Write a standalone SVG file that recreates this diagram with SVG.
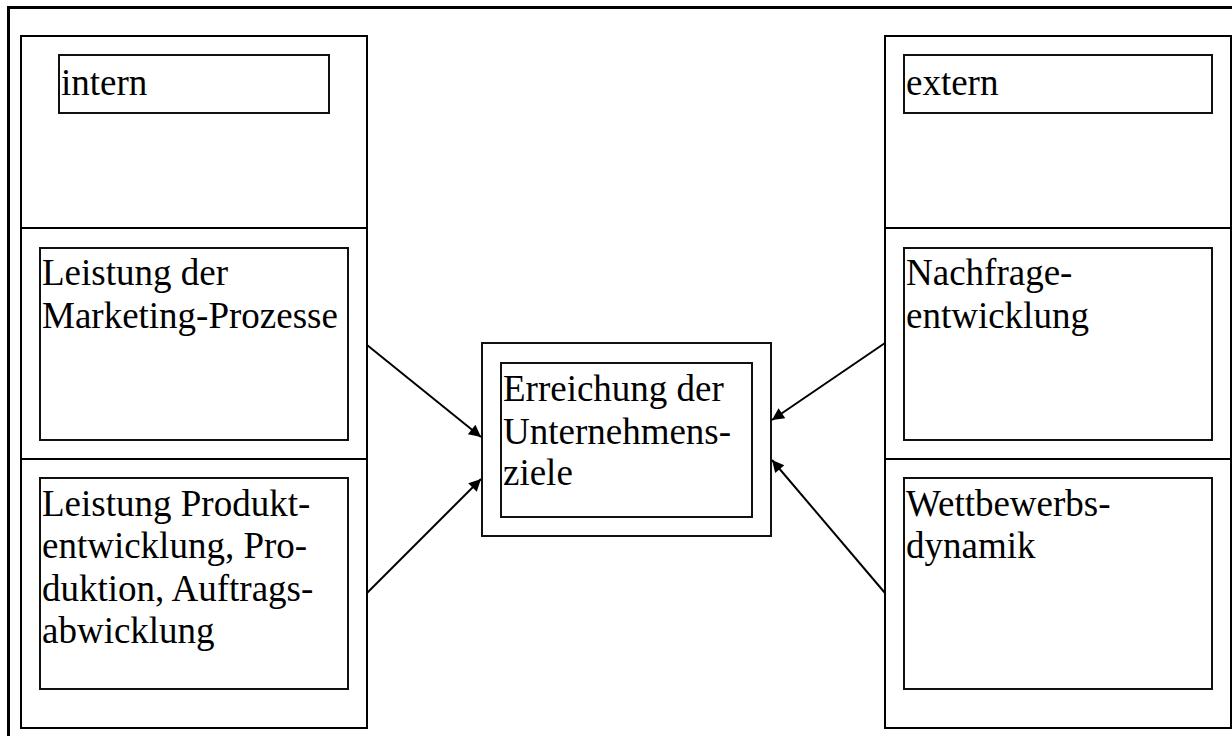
<svg xmlns="http://www.w3.org/2000/svg" width="1232" height="736" viewBox="0 0 1232 736">
<defs>
<style>
.frame{fill:none;stroke:#000;stroke-width:3}
.col{fill:#fff;stroke:#000;stroke-width:2}
.box{fill:#fff;stroke:#111;stroke-width:2}
.lbl{font-family:"Liberation Serif","Times New Roman",serif;font-size:37px;fill:#000}
.conn{stroke:#000;stroke-width:2;fill:none;marker-end:url(#ah)}
</style>
<marker id="ah" viewBox="0 0 10 10" refX="10" refY="5" markerWidth="8" markerHeight="6" markerUnits="strokeWidth" orient="auto">
<path d="M0,0 L10,5 L0,10 z" fill="#000"/>
</marker>
</defs>
<rect width="1232" height="736" fill="#fff"/>
<rect class="frame" x="8.5" y="7.5" width="1240" height="740"/>
<g id="left-column">
<rect class="col" x="21" y="36" width="346" height="692"/>
<line x1="21" y1="228" x2="367" y2="228" stroke="#000" stroke-width="2"/>
<line x1="21" y1="459" x2="367" y2="459" stroke="#000" stroke-width="2"/>
</g>
<g id="right-column">
<rect class="col" x="885" y="36" width="346" height="692"/>
<line x1="885" y1="228" x2="1231" y2="228" stroke="#000" stroke-width="2"/>
<line x1="885" y1="459" x2="1231" y2="459" stroke="#000" stroke-width="2"/>
</g>
<g id="intern">
<rect class="box" x="59" y="55" width="270" height="58"/>
<text class="lbl" x="61" y="95">intern</text>
</g>
<g id="marketing">
<rect class="box" x="40" y="248" width="308" height="192"/>
<text class="lbl" x="42" y="285">Leistung der</text>
<text class="lbl" x="42" y="328">Marketing-Prozesse</text>
</g>
<g id="produktion">
<rect class="box" x="40" y="478" width="308" height="211"/>
<text class="lbl" x="42" y="516">Leistung Produkt-</text>
<text class="lbl" x="42" y="558">entwicklung, Pro-</text>
<text class="lbl" x="42" y="601">duktion, Auftrags-</text>
<text class="lbl" x="42" y="643">abwicklung</text>
</g>
<g id="extern">
<rect class="box" x="904" y="55" width="308" height="58"/>
<text class="lbl" x="906" y="95">extern</text>
</g>
<g id="nachfrage">
<rect class="box" x="904" y="248" width="308" height="192"/>
<text class="lbl" x="906" y="285">Nachfrage-</text>
<text class="lbl" x="906" y="328">entwicklung</text>
</g>
<g id="wettbewerb">
<rect class="box" x="904" y="478" width="308" height="211"/>
<text class="lbl" x="906" y="516">Wettbewerbs-</text>
<text class="lbl" x="906" y="558">dynamik</text>
</g>
<g id="ziele">
<rect class="box" x="482" y="343" width="289" height="193"/>
<rect class="box" x="501" y="363" width="251" height="154"/>
<text class="lbl" x="503" y="401">Erreichung der</text>
<text class="lbl" x="503" y="444">Unternehmens-</text>
<text class="lbl" x="503" y="485">ziele</text>
</g>
<g id="connectors">
<line class="conn" x1="367" y1="345" x2="481" y2="437"/>
<line class="conn" x1="367" y1="593" x2="481" y2="479"/>
<line class="conn" x1="885" y1="343" x2="772" y2="420"/>
<line class="conn" x1="885" y1="593" x2="772" y2="460"/>
</g>
</svg>
